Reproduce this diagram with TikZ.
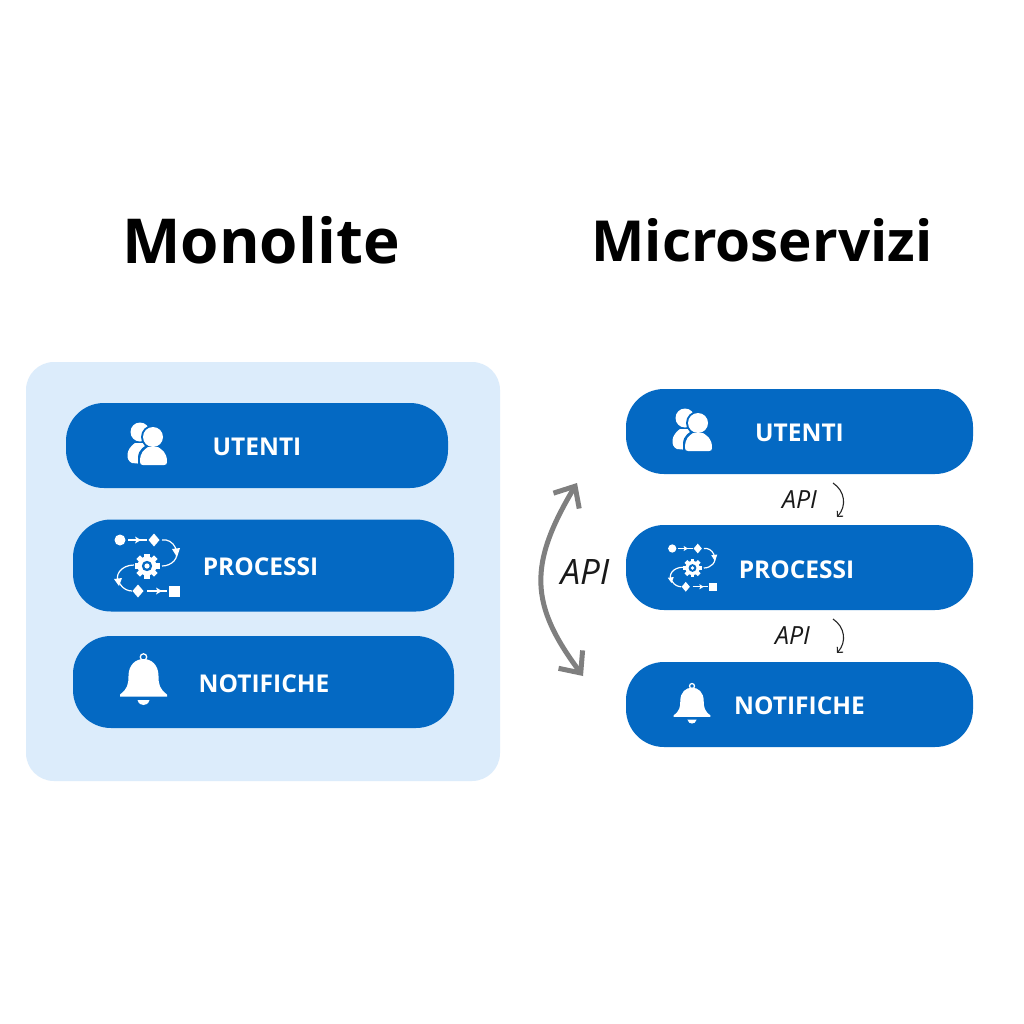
\documentclass[tikz,border=0pt]{standalone}
\usepackage{fontspec}
\setmainfont{Open Sans}
\usetikzlibrary{arrows.meta}
\definecolor{pillblue}{HTML}{0469C3}
\definecolor{panelblue}{HTML}{DCECFB}
\definecolor{arrowgray}{HTML}{7F7F7F}
\tikzset{
  panel/.style={fill=panelblue,rounded corners=28pt,inner sep=0pt,minimum width=474pt,minimum height=419pt},
  pill/.style={fill=pillblue,rounded corners=38pt,inner sep=0pt},
  pilltext/.style={text=white,inner sep=0pt,font=\fontsize{24.5}{26}\selectfont\bfseries},
  titleleft/.style={text=black,inner sep=0pt,font=\fontsize{62}{64}\selectfont\bfseries},
  titleright/.style={text=black,inner sep=0pt,font=\fontsize{56.6}{60}\selectfont\bfseries},
  apilarge/.style={text=black!90,inner sep=0pt,font=\fontsize{35}{37}\selectfont\itshape},
  apismall/.style={text=black!90,inner sep=0pt,font=\fontsize{25}{27}\selectfont\itshape},
  bigarrow/.style={draw=arrowgray,line width=5pt,{Straight Barb[length=17pt,width=30pt]}-{Straight Barb[length=17pt,width=30pt]}},
  smallarrow/.style={draw=black!85,line width=1.1pt,-{Straight Barb[length=4pt,width=8pt]}},
  iconline/.style={draw=white,line width=1.2pt}
}
% users icon, centred on (#1,#2), scale #3
\newcommand{\usersicon}[3]{%
\begin{scope}[shift={(#1,#2)},x=#3pt,y=-#3pt]
  \fill[white] (-7,-11) circle (9.5);
  \fill[white] (-15,20) .. controls (-22,17) and (-21,6) .. (-12,0) -- (0,0) -- (-4,21) -- cycle;
  \fill[pillblue] (6,-6) circle (12);
  \fill[pillblue] (-9,22) -- (-9,15) .. controls (-9,6) and (-2,3) .. (3,0) -- (16,0) -- (22,24) -- cycle;
  \fill[white] (6,-6) circle (10);
  \fill[white] (-7,19) .. controls (-7,9) and (-3,7) .. (1,4) -- (11,4) .. controls (15,7) and (20,9) .. (20,19) .. controls (20,21) and (19,22) .. (17,22) -- (-4,22) .. controls (-6,22) and (-7,21) .. (-7,19) -- cycle;
\end{scope}}
% process icon, centred on gear at (#1,#2), scale #3
\newcommand{\procicon}[3]{%
\begin{scope}[shift={(#1,#2)},x=#3pt,y=-#3pt]
  \fill[white] (-27,-26) circle (5.5);
  \draw[iconline] (-19,-26) -- (0,-26);
  \fill[white] (-6,-26) -- (-12,-29.5) -- (-10.5,-26) -- (-12,-22.5) -- cycle;
  \fill[white] (7,-32.5) -- (12.5,-26) -- (7,-19.5) -- (1.5,-26) -- cycle;
  \draw[iconline] (15,-26) .. controls (27,-28) and (34,-12) .. (27,-5) .. controls (24,-2) and (20,0) .. (15,0);
  \fill[white] (25,-17) -- (33,-18) -- (30,-9) -- cycle;
  \foreach \a in {0,45,...,315}{\fill[white,rotate=\a] (-2.6,-12.5) rectangle (2.6,0);}
  \fill[white] (0,0) circle (9.5);
  \fill[pillblue] (0,0) circle (5.2);
  \fill[white] (0,0) circle (2.6);
  \draw[iconline] (-13,-1) .. controls (-26,-1) and (-34,10) .. (-27,18) .. controls (-24,23) and (-19,25) .. (-15,25);
  \fill[white] (-33,13) -- (-25,12) -- (-28,20) -- cycle;
  \fill[white] (-9,18.5) -- (-3.5,25) -- (-9,31.5) -- (-14.5,25) -- cycle;
  \draw[iconline] (0,25) -- (20,25);
  \fill[white] (15,25) -- (9,21.5) -- (10.5,25) -- (9,28.5) -- cycle;
  \fill[white] (21.5,19.5) rectangle (32.5,30.5);
\end{scope}}
% bell icon, centred on (#1,#2), scale #3
\newcommand{\bellicon}[3]{%
\begin{scope}[shift={(#1,#2)},x=#3pt,y=-#3pt]
  \draw[white,line width=1.3pt] (0,-23) circle (3.2);
  \fill[white] (-23.5,16.5) -- (-23.5,14.5) .. controls (-16,9) and (-15,4) .. (-15,-4) .. controls (-15,-15) and (-8,-21) .. (0,-21) .. controls (8,-21) and (15,-15) .. (15,-4) .. controls (15,4) and (16,9) .. (23.5,14.5) -- (23.5,16.5) -- cycle;
  \fill[white] (-6,20) -- (6,20) .. controls (5,24) and (2,25) .. (0,25) .. controls (-2,25) and (-5,24) .. (-6,20) -- cycle;
\end{scope}}
\begin{document}
\begin{tikzpicture}[x=1pt,y=-1pt]
\useasboundingbox (0,0) rectangle (1024,1024);
\fill[white] (0,0) rectangle (1024,1024);
% titles
\node[titleleft] (t1) at (261,240) {Monolite};
\node[titleright] (t2) at (762,240) {Microservizi};
% panel
\node[panel] (mono) at (263,571.5) {};
% monolith pills
\node[pill,minimum width=382pt,minimum height=85pt] (mu) at (257,445.5) {};
\node[pill,minimum width=381pt,minimum height=92pt] (mp) at (263.5,565.5) {};
\node[pill,minimum width=381pt,minimum height=92pt] (mn) at (263.5,682) {};
\node[pilltext] (mut) at (257,446.5) {UTENTI};
\node[pilltext] (mpt) at (260.5,566.5) {PROCESSI};
\node[pilltext] (mnt) at (264,683.5) {NOTIFICHE};
\usersicon{147}{443}{1}
\procicon{147}{566}{1}
\bellicon{143.5}{680}{1}
% micro pills
\node[pill,minimum width=347pt,minimum height=85pt] (su) at (799.5,431.5) {};
\node[pill,minimum width=347pt,minimum height=85pt] (sp) at (799.5,567.5) {};
\node[pill,minimum width=347pt,minimum height=85pt] (sn) at (799.5,704.5) {};
\node[pilltext] (sut) at (799.5,433) {UTENTI};
\node[pilltext] (spt) at (796.5,569.5) {PROCESSI};
\node[pilltext] (snt) at (799.5,705.5) {NOTIFICHE};
\usersicon{692}{429}{1}
\procicon{692.5}{568}{0.75}
\bellicon{692}{704}{0.78}
% API labels
\node[apilarge] (api0) at (585,572) {API};
\node[apismall] (api1) at (799.5,500) {API};
\node[apismall] (api2) at (792.5,636) {API};
% arrows
\coordinate (a0s) at (577,483);
\coordinate (a0e) at (583,676);
\draw[bigarrow] (a0s) .. controls (528,565) and (530,605) .. (a0e);
\coordinate (a1s) at (833,483);
\coordinate (a1e) at (837,517);
\draw[smallarrow] (a1s) .. controls (845,491) and (847,506) .. (a1e);
\coordinate (a2s) at (833,619);
\coordinate (a2e) at (837,653);
\draw[smallarrow] (a2s) .. controls (845,627) and (847,642) .. (a2e);
\end{tikzpicture}
\end{document}
